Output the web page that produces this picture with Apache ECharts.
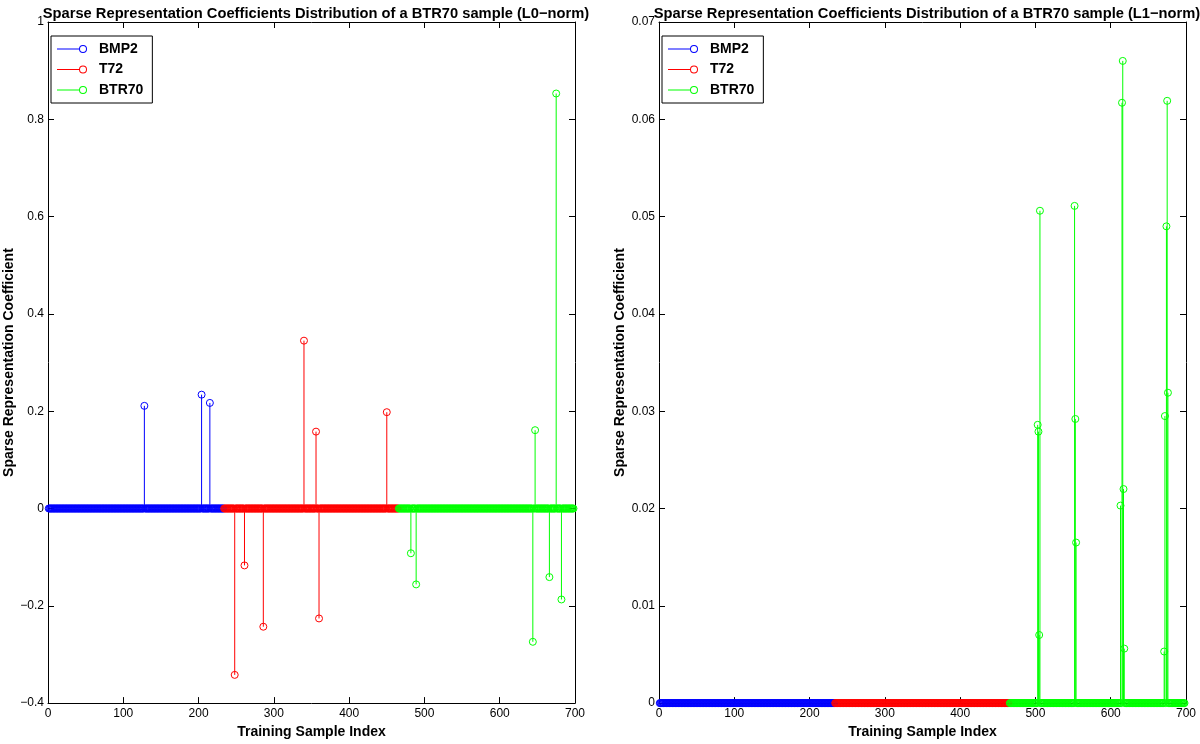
<!DOCTYPE html>
<html lang="en">
<head>
  <meta charset="UTF-8">
  <title>Sparse Representation Coefficients</title>
  <script src="https://cdn.jsdelivr.net/npm/echarts@6/dist/echarts.min.js"></script>
  <style>
    html, body { margin: 0; padding: 0; background: #fff; }
  </style>
  <script>
    // training samples per class (index ranges in the dictionary)
    const classNames = ['BMP2', 'T72', 'BTR70']
    const classCounts = [233, 232, 233]
    const classColors = ['#0000ff', '#ff0000', '#00ff00']

    // non-zero coefficients [sample index, value], L0-norm
    const l0BMP2 = [[128, 0.211], [204, 0.234], [215, 0.217]]
    const l0T72 = [[248, -0.342], [261, -0.117], [286, -0.243], [340, 0.345], [356, 0.158], [360, -0.226], [450, 0.198]]
    const l0BTR70 = [[482, -0.092], [489, -0.156], [644, -0.274], [647, 0.161], [666, -0.141], [675, 0.853], [682, -0.187]]

    // non-zero coefficients, L1-norm
    const l1BMP2 = []
    const l1T72 = []
    const l1BTR70 = [
      [503, 0.0286], [504, 0.0279], [505, 0.0070], [506, 0.0506],
      [552, 0.0511], [553, 0.0292], [554, 0.0165],
      [613, 0.0203], [615, 0.0617], [616, 0.0660], [617, 0.0220], [618, 0.0056],
      [671, 0.0053], [672, 0.0295], [674, 0.0490], [675, 0.0619], [676, 0.0319]
    ]

    const xTicks = [0, 700, 100]
    const yTicksL0 = [-0.4, 1, 0.2]
    const yTicksL1 = [0, 0.07, 0.01]

    const titleL0 = 'Sparse Representation Coefficients Distribution of a BTR70 sample (L0\u2212norm)'
    const titleL1 = 'Sparse Representation Coefficients Distribution of a BTR70 sample (L1\u2212norm)'

    addEventListener('load', () => {
      let chart = echarts.init(document.querySelector('#chart'))
      const font = 'Liberation Sans, Arial, Helvetica, sans-serif'

      // full coefficient vector of one class: zeros except the listed entries
      function classVector(c, nonzero) {
        let start = 1
        for (let i = 0; i < c; i++) start += classCounts[i]
        let map = {}
        nonzero.forEach(d => { map[d[0]] = d[1] })
        let out = []
        for (let i = start; i < start + classCounts[c]; i++) {
          out.push([i, map[i] !== undefined ? map[i] : 0])
        }
        return out
      }

      function stemSeries(c, nonzero, panel) {
        const color = classColors[c]
        return {
          type: 'custom',
          name: classNames[c],
          xAxisIndex: panel * 2,
          yAxisIndex: panel * 2,
          clip: false,
          itemStyle: { color },
          data: classVector(c, nonzero),
          renderItem: (params, api) => {
            const x = api.value(0)
            const v = api.value(1)
            const p0 = api.coord([x, 0])
            const p1 = api.coord([x, v])
            const children = []
            if (v !== 0) {
              children.push({
                type: 'line',
                shape: { x1: p0[0], y1: p0[1], x2: p1[0], y2: p1[1] },
                style: { stroke: color, lineWidth: 1 }
              })
            }
            children.push({
              type: 'circle',
              shape: { cx: p1[0], cy: p1[1], r: 3.5 },
              style: { fill: 'none', stroke: color, lineWidth: 1 }
            })
            return { type: 'group', children }
          }
        }
      }

      const axisLine = { show: true, onZero: false, lineStyle: { color: '#000', width: 1 } }
      const tick = { show: true, inside: true, length: 6, lineStyle: { color: '#000' } }
      const labelStyle = { color: '#000', fontSize: 12, fontFamily: font }
      const nameStyle = { color: '#000', fontSize: 14, fontWeight: 'bold', fontFamily: font }

      function fmt(digits) {
        return v => {
          const r = Math.round(v * Math.pow(10, digits)) / Math.pow(10, digits)
          return String(r).replace('-', '\u2212')
        }
      }

      function xAxes(grid) {
        return [
          {
            type: 'value', gridIndex: grid, position: 'bottom',
            min: xTicks[0], max: xTicks[1], interval: xTicks[2],
            axisLine, axisTick: tick, splitLine: { show: false },
            axisLabel: Object.assign({ margin: 5 }, labelStyle),
            name: 'Training Sample Index', nameLocation: 'middle', nameGap: 19,
            nameTextStyle: nameStyle
          },
          {
            type: 'value', gridIndex: grid, position: 'top',
            min: xTicks[0], max: xTicks[1], interval: xTicks[2],
            axisLine, axisTick: tick, splitLine: { show: false },
            axisLabel: { show: false }
          }
        ]
      }

      function yAxes(grid, ticks, digits) {
        return [
          {
            type: 'value', gridIndex: grid, position: 'left',
            min: ticks[0], max: ticks[1], interval: ticks[2],
            axisLine, axisTick: tick, splitLine: { show: false },
            axisLabel: Object.assign({ margin: 4, formatter: fmt(digits) }, labelStyle),
            name: 'Sparse Representation Coefficient', nameLocation: 'middle', nameGap: 32,
            nameTextStyle: nameStyle
          },
          {
            type: 'value', gridIndex: grid, position: 'right',
            min: ticks[0], max: ticks[1], interval: ticks[2],
            axisLine, axisTick: tick, splitLine: { show: false },
            axisLabel: { show: false }
          }
        ]
      }

      // legend icon: line ending with an open circle (stem style)
      const stemIcon = 'path://M0,3.5L22.5,3.5L22.5,4.5L0,4.5Z' +
        'M30,4A4,4,0,1,1,22,4A4,4,0,1,1,30,4Z' +
        'M29,4A3,3,0,1,0,23,4A3,3,0,1,0,29,4Z'

      function legend(left) {
        return {
          data: classNames,
          orient: 'vertical',
          left, top: 36,
          icon: stemIcon,
          itemWidth: 30, itemHeight: 8,
          itemGap: 6.5,
          padding: [6, 9, 6, 6],
          backgroundColor: '#fff',
          borderColor: '#000',
          borderWidth: 1,
          textStyle: { color: '#000', fontSize: 14, fontWeight: 'bold', fontFamily: font, lineHeight: 14, padding: [0, 0, 0, 7] }
        }
      }

      let option = {
        animation: false,
        title: [
          { text: titleL0, left: 311, top: 1, textAlign: 'center',
            textStyle: { color: '#000', fontSize: 14.7, fontWeight: 'bold', fontFamily: font } },
          { text: titleL1, left: 922, top: 1, textAlign: 'center',
            textStyle: { color: '#000', fontSize: 14.7, fontWeight: 'bold', fontFamily: font } }
        ],
        legend: [legend(51), legend(662)],
        grid: [
          { left: 48, top: 22, width: 527, height: 686 },
          { left: 659, top: 22, width: 527, height: 686 }
        ],
        xAxis: xAxes(0).concat(xAxes(1)),
        yAxis: yAxes(0, yTicksL0, 1).concat(yAxes(1, yTicksL1, 2)),
        series: [
          stemSeries(0, l0BMP2, 0),
          stemSeries(1, l0T72, 0),
          stemSeries(2, l0BTR70, 0),
          stemSeries(0, l1BMP2, 1),
          stemSeries(1, l1T72, 1),
          stemSeries(2, l1BTR70, 1)
        ]
      }
      chart.setOption(option)
    })
  </script>
</head>
<body>
  <div id="chart" style="width: 1200px; height: 744px"></div>
</body>
</html>
